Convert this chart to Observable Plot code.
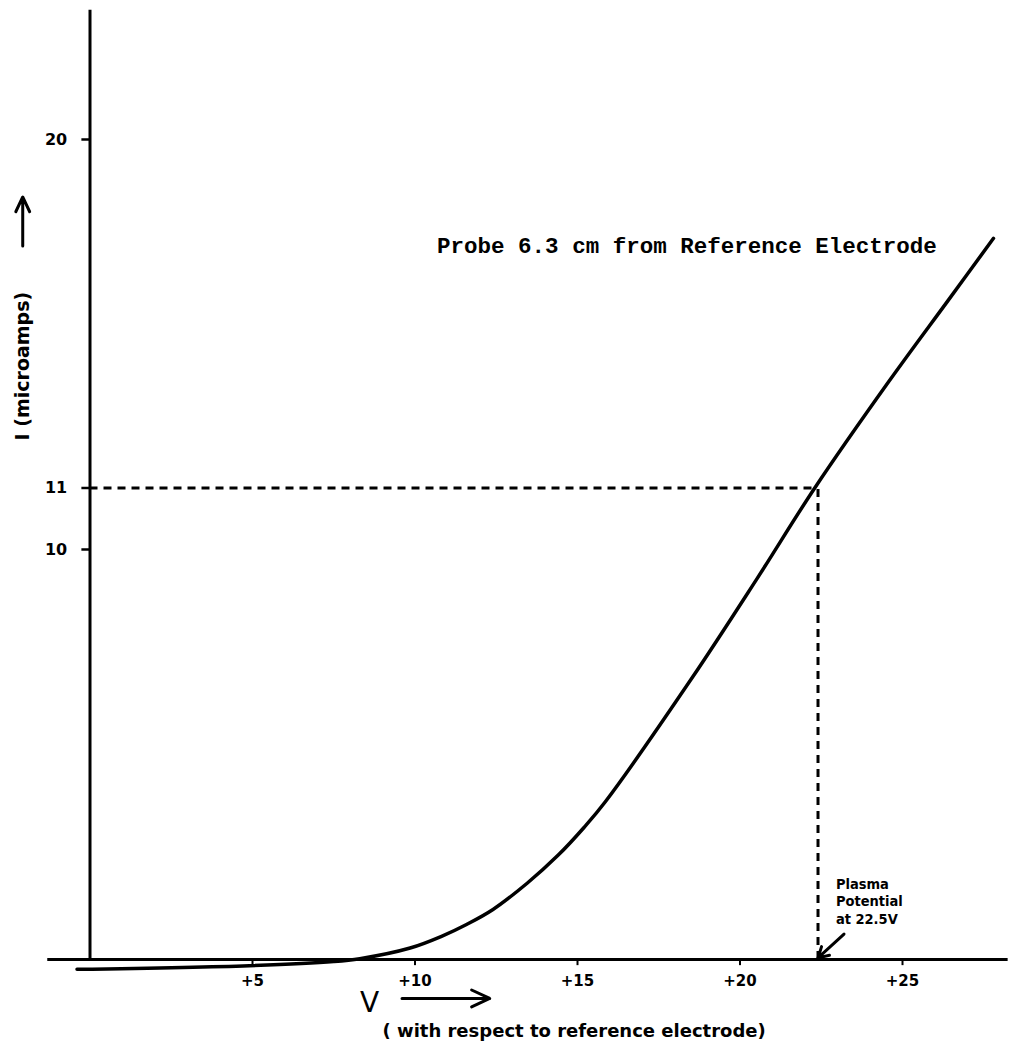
<!DOCTYPE html>
<html>
<head>
<meta charset="utf-8">
<script src="https://cdn.jsdelivr.net/npm/d3@7"></script>
<script src="https://cdn.jsdelivr.net/npm/@observablehq/plot@0.6"></script>
<style>
  html, body { margin: 0; padding: 0; background: #fff; }
  #chart svg { display: block; }
</style>
</head>
<body>
<div id="chart"></div>
<script>
// Probe current I (microamps) versus probe voltage V (volts)
const voltage = [-0.4, 4.9, 7.5, 8.3, 9.85, 10.8, 11.6, 12.4, 13.45, 14.4, 15.2, 15.85, 18.5, 20.5, 22.3, 24.6, 26.4, 27.8];
const current = [-0.24, -0.15, -0.05, 0.02, 0.28, 0.56, 0.86, 1.22, 1.86, 2.54, 3.22, 3.84, 6.84, 9.26, 11.5, 14.12, 16.07, 17.59];

const xTickValues = [5, 10, 15, 20, 25];
const xTickLabels = ["+5", "+10", "+15", "+20", "+25"];
const yTickValues = [10, 11.5, 20];
const yTickLabels = ["10", "11", "20"];

const plasmaV = 22.4;   // dashed vertical line
const plasmaI = 11.5;   // dashed horizontal line
const title = "Probe 6.3 cm from Reference Electrode";
const yLabel = "I (microamps)";
const xLabel = "V";
const xSubLabel = "( with respect to reference electrode)";
const plasmaNote = "Plasma\nPotential\nat 22.5V";

const curve = voltage.map((v, i) => ({V: v, I: current[i]}));
const xTicks = xTickValues.map((v, i) => ({v, label: xTickLabels[i]}));
const yTicks = yTickValues.map((v, i) => ({v, label: yTickLabels[i]}));

const hand = "'DejaVu Sans', sans-serif";

const chart = Plot.plot({
  width: 1009,
  height: 1056,
  margin: 0,
  x: {domain: [-2.754, 28.292], axis: null},
  y: {domain: [-2.366, 23.39], axis: null},
  marks: [
    // axes
    Plot.ruleY([0], {x1: -1.3, x2: 28.25, stroke: "#000", strokeWidth: 3}),
    Plot.ruleX([0], {y1: -0.03, y2: 23.15, stroke: "#000", strokeWidth: 3}),
    // x ticks
    Plot.ruleX(xTicks, {x: "v", y1: 0, y2: -0.15, stroke: "#000", strokeWidth: 2}),
    Plot.text(xTicks, {x: "v", y: -0.52, text: "label", fontSize: 15, fontWeight: "bold", fontFamily: hand, fill: "#000"}),
    // y ticks
    Plot.ruleY(yTicks, {y: "v", x1: -0.25, x2: 0, stroke: "#000", strokeWidth: 2.5}),
    Plot.text(yTicks, {x: -0.7, y: "v", text: "label", textAnchor: "end", fontSize: 16, fontWeight: "bold", fontFamily: hand, fill: "#000"}),
    // dashed guide lines
    Plot.ruleY([plasmaI], {x1: 0, x2: plasmaV, stroke: "#000", strokeWidth: 3, strokeDasharray: "8,6"}),
    Plot.ruleX([plasmaV], {y1: 0, y2: plasmaI, stroke: "#000", strokeWidth: 3, strokeDasharray: "8,6"}),
    // the characteristic curve
    Plot.line(curve, {x: "V", y: "I", curve: "catmull-rom", stroke: "#000", strokeWidth: 3.5}),
    // title
    Plot.text([title], {x: 10.68, y: 17.4, text: d => d, textAnchor: "start", fontSize: 22.5, fontWeight: "bold", fontFamily: "'Liberation Mono', monospace", fill: "#000"}),
    // y label
    Plot.text([yLabel], {x: -2.07, y: 12.66, text: d => d, rotate: -90, textAnchor: "start", fontSize: 19, fontWeight: "bold", fontFamily: hand, fill: "#000"}),
    Plot.arrow([0], {x1: -2.07, x2: -2.07, y1: 17.4, y2: 18.6, stroke: "#000", strokeWidth: 3, headLength: 10, headAngle: 50}),
    // x label
    Plot.text([xLabel], {x: 8.6, y: -1.05, text: d => d, fontSize: 28, fontFamily: hand, fill: "#000"}),
    Plot.arrow([0], {x1: 9.6, x2: 12.3, y1: -0.95, y2: -0.95, stroke: "#000", strokeWidth: 3, headLength: 10, headAngle: 50}),
    Plot.text([xSubLabel], {x: 9.0, y: -1.75, text: d => d, textAnchor: "start", fontSize: 18, fontWeight: "bold", fontFamily: hand, fill: "#000"}),
    // plasma potential note
    Plot.text([plasmaNote], {x: 22.95, y: 2.02, text: d => d, textAnchor: "start", lineAnchor: "top", lineHeight: 1.2, fontSize: 14.5, fontWeight: "bold", fontFamily: "'DejaVu Sans Condensed', 'DejaVu Sans', sans-serif", fill: "#000"}),
    Plot.arrow([0], {x1: 23.2, y1: 0.62, x2: plasmaV, y2: 0.04, stroke: "#000", strokeWidth: 3, headLength: 10, headAngle: 60})
  ]
});
document.getElementById("chart").appendChild(chart);
</script>
</body>
</html>
